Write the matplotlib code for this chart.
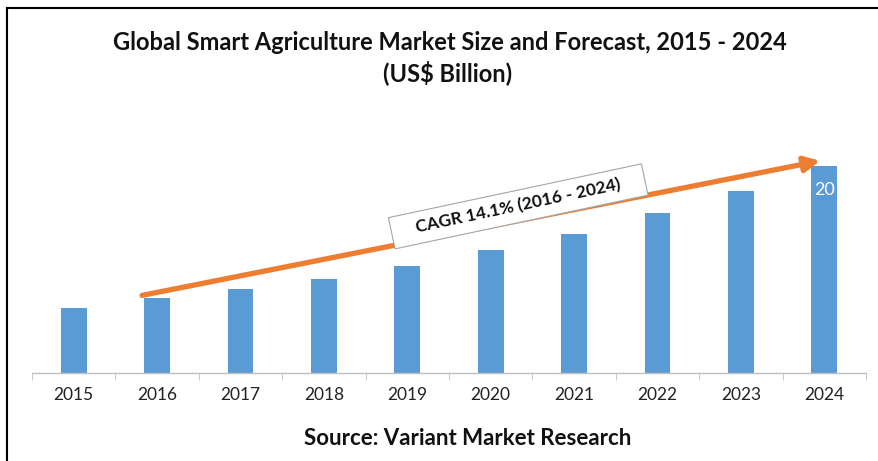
import matplotlib
matplotlib.use("Agg")
import matplotlib.pyplot as plt
from matplotlib.lines import Line2D

years = ["2015", "2016", "2017", "2018", "2019", "2020", "2021", "2022", "2023", "2024"]
market_size = [6.3, 7.2, 8.1, 9.1, 10.3, 11.9, 13.4, 15.5, 17.6, 20.0]
title_line1 = "Global Smart Agriculture Market Size and Forecast, 2015 - 2024"
title_line2 = "(US$ Billion)"
cagr_text = "CAGR 14.1% (2016 - 2024)"
source_text = "Source: Variant Market Research"
last_label = "20"

plt.rcParams['font.family'] = ['Lato', 'DejaVu Sans']

W, H = 879, 461
fig = plt.figure(figsize=(W / 100, H / 100), dpi=100)
fig.patch.set_facecolor("white")

ax = fig.add_axes([32 / W, 1 - 373 / H, (866 - 32) / W, (373 - 120) / H])
x = list(range(len(years)))
ax.bar(x, market_size, width=0.31, color="#5B9BD5", zorder=2)
ax.set_xlim(-0.5, len(years) - 0.5)
ax.set_ylim(0, 253 / 10.35)

for s in ["top", "right", "left"]:
    ax.spines[s].set_visible(False)
ax.spines["bottom"].set_color("#BFBFBF")
ax.spines["bottom"].set_linewidth(1.0)
ax.set_yticks([])
ax.set_xticks(x)
ax.set_xticklabels(years, fontsize=12.5, color="#222222")
ax.tick_params(axis="x", length=0, pad=10)
ax.set_xticks([i - 0.5 for i in range(len(years) + 1)], minor=True)
ax.tick_params(axis="x", which="minor", length=5, color="#BFBFBF", direction="out")

# value label on last bar
ax.text(x[-1], market_size[-1] - 1.5, last_label, color="white", fontsize=13,
        ha="center", va="top", zorder=3)

# CAGR arrow
ax.annotate("", xy=(x[-1] - 0.05, market_size[-1] + 0.5),
            xytext=(x[1] - 0.18, market_size[1] + 0.3),
            arrowprops=dict(arrowstyle="-|>,head_length=0.9,head_width=0.45",
                            color="#ED7D31", lw=3.8, shrinkA=0, shrinkB=0),
            zorder=4)

ax.text(5.33, 16.1, "    " + cagr_text + "    ", fontsize=12.5, fontweight="bold", rotation=12,
        rotation_mode="anchor", ha="center", va="center", color="#111111", zorder=5,
        bbox=dict(boxstyle="square,pad=0.45", facecolor="white", edgecolor="#A6A6A6", lw=0.8))

fig.text(450 / W, 1 - 42 / H, title_line1, ha="center", va="center", fontsize=17,
         fontweight="bold", color="#111111")
fig.text(448 / W, 1 - 73 / H, title_line2, ha="center", va="center", fontsize=17,
         fontweight="bold", color="#111111")
fig.text(468 / W, 1 - 438 / H, source_text, ha="center", va="center", fontsize=16,
         fontweight="bold", color="#111111")

# frame lines (top and left)
fig.add_artist(Line2D([7 / W, 1], [1 - 8 / H, 1 - 8 / H], color="black", lw=1.5,
                      transform=fig.transFigure))
fig.add_artist(Line2D([7 / W, 7 / W], [0, 1 - 8 / H], color="black", lw=1.5,
                      transform=fig.transFigure))

fig.savefig("out.png", dpi=100, facecolor="white")
